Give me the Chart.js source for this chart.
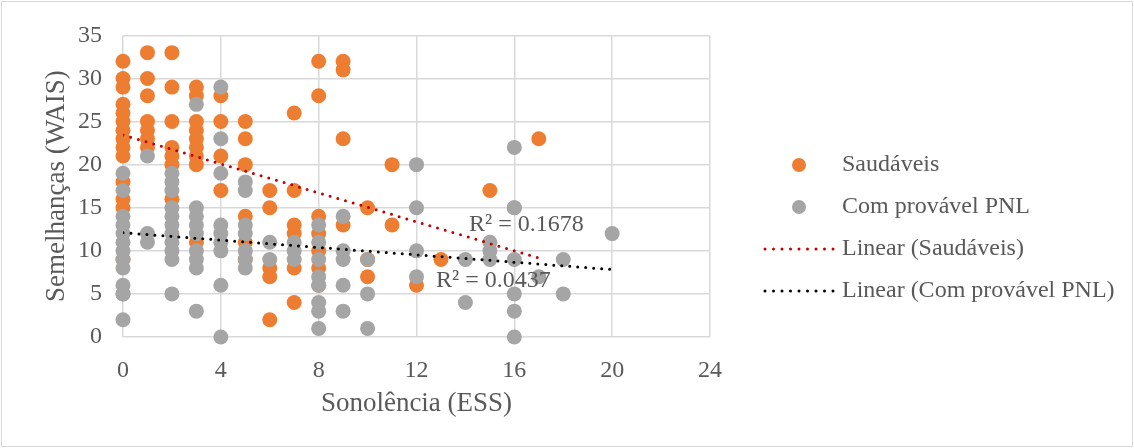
<!DOCTYPE html>
<html>
<head>
<meta charset="utf-8">
<script src="https://cdn.jsdelivr.net/npm/chart.js@4/dist/chart.umd.min.js"></script>
<style>
  html, body { margin: 0; padding: 0; background: #fff; }
  #wrap { width: 1134px; height: 448px; position: relative; }
  canvas { display: block; }
</style>
</head>
<body>
<div id="wrap"><canvas id="wais" width="1134" height="448"></canvas></div>
<script>
// Saudáveis: ESS score and WAIS similarities score per subject
const healthyEss = [
  0,0,0,0,0,0,0,0,0,0,0,0,0,0,
  1,1,1,1,1,1,1,
  2,2,2,2,2,2,2,
  3,3,3,3,3,3,3,3,3,
  4,4,4,4,
  5,5,5,5,5,5,
  6,6,6,6,6,
  7,7,7,7,7,7,
  8,8,8,8,8,8,8,
  9,9,9,9,
  10,10,10,
  11,11,
  12, 13, 15, 17
];
const healthyWais = [
  32,30,29,27,26,25,24,23,22,21,18,16,15,9,
  33,30,28,25,24,23,22,
  33,29,25,22,21,20,16,
  29,28,25,24,23,22,21,20,11,
  28,25,21,17,
  25,23,20,14,11,9,
  17,15,8,7,2,
  26,17,13,12,8,4,
  32,28,14,12,10,8,6,
  32,31,23,13,
  15,9,7,
  20,13,
  6, 9, 17, 23
];

// Com provável PNL
const pnlEss = [
  0,0,0,0,0,0,0,0,0,0,0,0,0,
  1,1,1,
  2,2,2,2,2,2,2,2,2,2,2,
  3,3,3,3,3,3,3,3,3,
  4,4,4,4,4,4,4,4,4,
  5,5,5,5,5,5,5,
  6,6,
  7,7,7,
  8,8,8,8,8,8,8,8,
  9,9,9,9,9,
  10,10,10,
  12,12,12,12,
  14,14,
  15,15,15,
  16,16,16,16,16,16,16,
  17, 18,18, 20
];
const pnlWais = [
  19,17,14,13,12,11,10,9,8,6,5,5,2,
  21,12,11,
  19,18,17,15,14,13,12,11,10,9,5,
  27,15,14,13,12,10,9,8,3,
  29,23,19,13,12,11,10,6,0,
  18,17,13,12,10,9,8,
  11,9,
  11,10,9,
  13,11,9,7,6,4,3,1,
  14,10,9,6,3,
  9,5,1,
  20,15,10,7,
  9,4,
  11,10,9,
  22,15,15,9,5,3,0,
  7, 9,5, 12
];

const xTicks = [0, 4, 8, 12, 16, 20, 24];
const yTicks = [0, 5, 10, 15, 20, 25, 30, 35];
const r2Labels = ['R² = 0.1678', 'R² = 0.0437'];

const ORANGE = '#ED7D31';
const GREY = '#A5A5A5';
const TEXT = '#595959';
const SERIF = "'Liberation Serif', 'Times New Roman', serif";

function toPoints(xs, ys) {
  return xs.map((x, i) => ({ x: x, y: ys[i] }));
}

// least squares line across the series' ESS range (same as a spreadsheet linear trendline)
function trendline(xs, ys) {
  const n = xs.length;
  let sx = 0, sy = 0, sxx = 0, sxy = 0;
  for (let i = 0; i < n; i++) {
    sx += xs[i]; sy += ys[i];
    sxx += xs[i] * xs[i]; sxy += xs[i] * ys[i];
  }
  const slope = (n * sxy - sx * sy) / (n * sxx - sx * sx);
  const icpt = (sy - slope * sx) / n;
  const lo = Math.min(...xs), hi = Math.max(...xs);
  return [{ x: lo, y: icpt + slope * lo }, { x: hi, y: icpt + slope * hi }];
}

Chart.defaults.font.family = SERIF;
Chart.defaults.color = TEXT;

// legend, R² labels and outer frame
const extras = {
  id: 'extras',
  afterDraw(chart) {
    const ctx = chart.ctx;
    const xs = chart.scales.x, ys = chart.scales.y;
    ctx.save();
    ctx.font = 'normal 24px ' + SERIF;
    ctx.fillStyle = TEXT;
    ctx.textBaseline = 'middle';
    ctx.textAlign = 'left';
    ctx.fillText(r2Labels[0], xs.getPixelForValue(14.15), ys.getPixelForValue(13.0));
    ctx.fillText(r2Labels[1], xs.getPixelForValue(12.8), ys.getPixelForValue(6.5));

    const items = [
      { text: 'Saudáveis', dot: ORANGE },
      { text: 'Com provável PNL', dot: GREY },
      { text: 'Linear (Saudáveis)', line: '#C00000' },
      { text: 'Linear (Com provável PNL)', line: '#000000' }
    ];
    items.forEach((it, i) => {
      const y = 165 + i * 42;
      if (it.dot) {
        ctx.fillStyle = it.dot;
        ctx.beginPath();
        ctx.arc(799, y, 7, 0, Math.PI * 2);
        ctx.fill();
      } else {
        ctx.strokeStyle = it.line;
        ctx.lineWidth = 3;
        ctx.lineCap = 'round';
        ctx.setLineDash([0, 8.5]);
        ctx.beginPath();
        ctx.moveTo(765, y);
        ctx.lineTo(835, y);
        ctx.stroke();
        ctx.setLineDash([]);
      }
      ctx.fillStyle = TEXT;
      ctx.fillText(it.text, 842, y);
    });

    ctx.strokeStyle = '#D9D9D9';
    ctx.lineWidth = 1;
    ctx.strokeRect(1.5, 1.5, chart.width - 3, chart.height - 3);
    ctx.restore();
  }
};

new Chart(document.getElementById('wais'), {
  type: 'scatter',
  data: {
    datasets: [
      {
        label: 'Linear (Saudáveis)',
        data: trendline(healthyEss, healthyWais),
        showLine: true,
        borderColor: '#C00000',
        borderWidth: 3,
        borderDash: [0, 8],
        borderCapStyle: 'round',
        pointRadius: 0,
        order: 0
      },
      {
        label: 'Linear (Com provável PNL)',
        data: trendline(pnlEss, pnlWais),
        showLine: true,
        borderColor: '#000000',
        borderWidth: 3,
        borderDash: [0, 8],
        borderCapStyle: 'round',
        pointRadius: 0,
        order: 0
      },
      {
        label: 'Com provável PNL',
        data: toPoints(pnlEss, pnlWais),
        backgroundColor: GREY,
        borderWidth: 0,
        pointRadius: 7.5,
        clip: false,
        order: 1
      },
      {
        label: 'Saudáveis',
        data: toPoints(healthyEss, healthyWais),
        backgroundColor: ORANGE,
        borderWidth: 0,
        pointRadius: 7.5,
        clip: false,
        order: 2
      }
    ]
  },
  options: {
    responsive: false,
    animation: false,
    devicePixelRatio: 1,
    layout: { padding: { left: 0, right: 424, top: 35, bottom: 0 } },
    plugins: { legend: { display: false }, tooltip: { enabled: false } },
    scales: {
      x: {
        type: 'linear',
        min: 0, max: 24,
        afterBuildTicks: s => { s.ticks = xTicks.map(v => ({ value: v })); },
        afterFit: s => { s.height = 111; },
        grid: { color: '#D9D9D9', lineWidth: 1.5, drawTicks: false },
        border: { display: false },
        ticks: { font: { size: 24 }, padding: 19, color: TEXT },
        title: { display: true, text: 'Sonolência (ESS)', font: { size: 27 }, color: TEXT, padding: { bottom: 28 } }
      },
      y: {
        type: 'linear',
        min: 0, max: 35,
        afterBuildTicks: s => { s.ticks = yTicks.map(v => ({ value: v })); },
        afterFit: s => { s.width = 123; },
        grid: { color: '#D9D9D9', lineWidth: 1.5, drawTicks: false },
        border: { display: false },
        ticks: { font: { size: 24 }, padding: 21, color: TEXT },
        title: { display: true, text: 'Semelhanças (WAIS)', font: { size: 27 }, color: TEXT, padding: { top: 41 } }
      }
    }
  },
  plugins: [extras]
});
</script>
</body>
</html>
